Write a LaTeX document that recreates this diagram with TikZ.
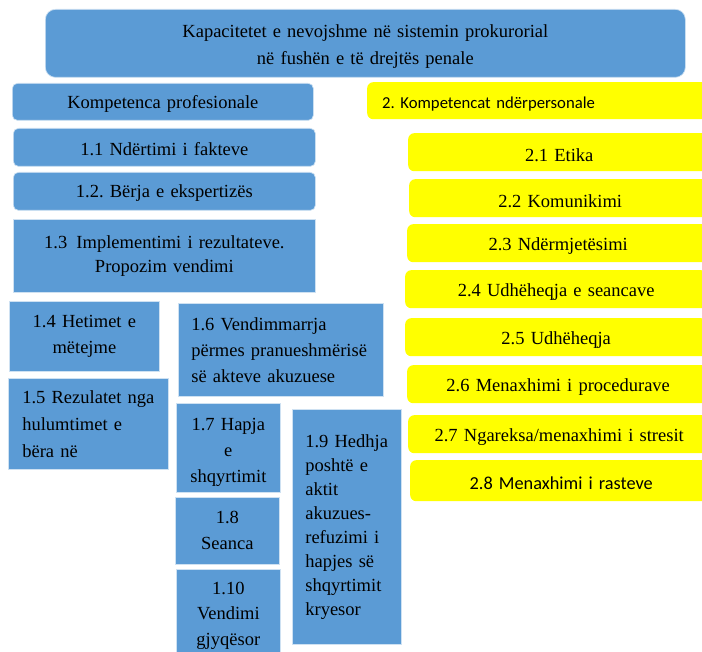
\documentclass[tikz,border=0pt]{standalone}
\usepackage{fontspec}
\setmainfont{Liberation Serif}
\newfontfamily\calibri{Carlito}
\usepackage{xcolor}
\definecolor{boxblue}{HTML}{5B9BD5}
\definecolor{boxyellow}{HTML}{FFFF00}
\frenchspacing

\begin{document}
\begin{tikzpicture}[x=1pt, y=-1pt,
  box/.style={anchor=north west, inner sep=0pt, align=center, text=black,
    font=\fontsize{18.5}{26}\selectfont},
  bluebox/.style={box, fill=boxblue, draw=white!70!boxblue, line width=0.7pt},
  yelbox/.style={box, fill=boxyellow, rounded corners=6pt, text width=302pt, minimum height=38pt, lower=18pt},
  leftbox/.style={align=left, inner xsep=13pt},
  lower/.style={execute at begin node={\rule{0pt}{#1}}}]
\useasboundingbox (0,0) rectangle (702,652);
\clip (0,0) rectangle (702,652);

%% Title
\node[bluebox, rounded corners=10pt, text width=640pt, minimum height=68pt, lower=19pt,
  font=\fontsize{18.5}{27}\selectfont] (title) at (45,9)
  {Kapacitetet e nevojshme në sistemin prokurorial\\në fushën e të drejtës penale};

%% Professional competences (blue, left)
\node[bluebox, rounded corners=5pt, text width=301pt, minimum height=37pt, lower=17pt] (prof) at (12,83) {Kompetenca profesionale};
\node[bluebox, rounded corners=5pt, text width=302pt, minimum height=38pt, lower=17pt] (p11) at (13,128) {1.1 Ndërtimi i fakteve};
\node[bluebox, rounded corners=5pt, text width=302pt, minimum height=38pt, lower=17pt] (p12) at (13,172) {1.2. Bërja e ekspertizës};
\node[bluebox, text width=302pt, minimum height=73pt, font=\fontsize{18.5}{24}\selectfont] (p13) at (13,219)
  {1.3\enspace Implementimi i rezultateve.\\Propozim vendimi};
\node[bluebox, text width=150pt, minimum height=70pt] (p14) at (9,301) {1.4 Hetimet e\\mëtejme};
\node[bluebox, leftbox, text width=179pt, minimum height=93pt] (p16) at (178,303)
  {1.6 Vendimmarrja\\përmes pranueshmërisë\\së akteve akuzuese};
\node[bluebox, leftbox, inner xsep=14pt, text width=132pt, minimum height=91pt, font=\fontsize{18.5}{27}\selectfont] (p15) at (8,378)
  {\mbox{1.5 Rezulatet nga}\\hulumtimet e\\bëra në};
\node[bluebox, text width=104pt, minimum height=89pt, lower=22pt] (p17) at (176,403) {1.7 Hapja\\e\\shqyrtimit};
\node[bluebox, text width=104pt, minimum height=67pt] (p18) at (175,497) {1.8\\Seanca};
\node[bluebox, text width=104pt, minimum height=88pt, lower=17pt, font=\fontsize{18.5}{25.5}\selectfont] (p110) at (176,569) {1.10\\Vendimi\\gjyqësor};
\node[bluebox, leftbox, text width=83pt, minimum height=235pt, font=\fontsize{18.5}{24}\selectfont] (p19) at (292,409)
  {1.9 Hedhja\\poshtë e\\aktit\\akuzues-\\refuzimi i\\hapjes së\\shqyrtimit\\kryesor};

%% Interpersonal competences (yellow, right)
\node[yelbox, leftbox, inner xsep=15pt, text width=315pt, minimum height=37pt,
  font=\calibri\fontsize{16.7}{19}\selectfont] (inter) at (367,82) {2. Kompetencat ndërpersonale};
\foreach \n/\x/\y/\txt in {
  1/408/133/{2.1 Etika},
  2/409/179/{2.2 Komunikimi},
  3/407/224/{2.3 Ndërmjetësimi},
  4/405/270/{2.4 Udhëheqja e seancave},
  5/405/318/{2.5 Udhëheqja},
  6/407/365/{2.6 Menaxhimi i procedurave},
  7/408/415/{2.7 Ngareksa/menaxhimi i stresit}
}{
  \node[yelbox] (i\n) at (\x,\y) {\txt};
}
\node[yelbox, minimum height=41pt, font=\calibri\fontsize{18.3}{21}\selectfont] (i8) at (410,460) {2.8 Menaxhimi i rasteve};
\end{tikzpicture}
\end{document}
